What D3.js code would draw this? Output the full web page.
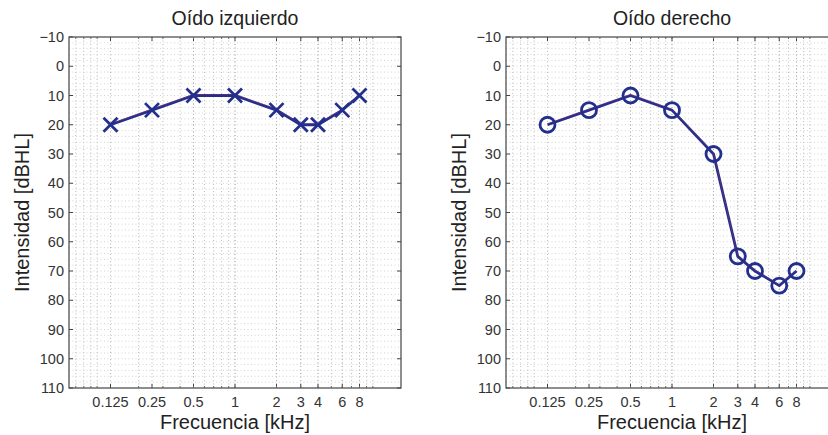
<!DOCTYPE html>
<html lang="es">
<head>
<meta charset="UTF-8">
<title>Audiograma</title>
<script src="https://d3js.org/d3.v7.min.js"></script>
<style>
  body { margin: 0; background: #fff; }
  svg { display: block; font-family: "Liberation Sans", Arial, sans-serif; }
</style>
</head>
<body>
<div id="chart"></div>
<script>
// frequencies in kHz and thresholds in dB HL
var freqs = [0.125, 0.25, 0.5, 1, 2, 3, 4, 6, 8];
var leftEar = [20, 15, 10, 10, 15, 20, 20, 15, 10];
var rightEar = [20, 15, 10, 15, 30, 65, 70, 75, 70];
var xTicks = [0.125, 0.25, 0.5, 1, 2, 3, 4, 6, 8];
var xTickLabels = ["0.125", "0.25", "0.5", "1", "2", "3", "4", "6", "8"];
var yTicks = [-10, 0, 10, 20, 30, 40, 50, 60, 70, 80, 90, 100, 110];

var W = 828, H = 435;
var svg = d3.select("#chart").append("svg").attr("width", W).attr("height", H);

var plotW = 332, plotTop = 37, plotBottom = 388;
var blue = "#222f8c";

function panel(x0, title, values, marker) {
    var x = d3.scaleLog().domain([0.0625, 16]).range([x0, x0 + plotW]);
    var y = d3.scaleLinear().domain([-10, 110]).range([plotTop, plotBottom]);
    var g = svg.append("g");

    // minor log grid positions
    var minor = [];
    [0.01, 0.1, 1, 10].forEach(function (dec) {
        for (var k = 1; k <= 9; k++) {
            var v = dec * k;
            if (v > 0.0625 && v < 16) minor.push(v);
        }
    });
    var vgrid = minor.concat(xTicks);
    var hgrid = d3.range(-8, 110, 2);

    g.selectAll(".vg").data(vgrid).enter().append("line")
        .attr("x1", d => x(d)).attr("x2", d => x(d))
        .attr("y1", plotTop).attr("y2", plotBottom)
        .attr("stroke", "#a8a8a8").attr("stroke-width", 0.8)
        .attr("stroke-dasharray", "1,2.5");
    g.selectAll(".hg").data(hgrid).enter().append("line")
        .attr("x1", x0).attr("x2", x0 + plotW)
        .attr("y1", d => y(d)).attr("y2", d => y(d))
        .attr("stroke", "#c8c8c8").attr("stroke-width", 0.8)
        .attr("stroke-dasharray", "1,2.5");

    // box
    g.append("rect").attr("x", x0).attr("y", plotTop)
        .attr("width", plotW).attr("height", plotBottom - plotTop)
        .attr("fill", "none").attr("stroke", "#444").attr("stroke-width", 1.2);

    // ticks (inward)
    g.selectAll(".xt").data(xTicks).enter().append("path")
        .attr("d", d => "M" + x(d) + "," + plotBottom + "v-4M" + x(d) + "," + plotTop + "v4")
        .attr("stroke", "#444");
    g.selectAll(".xm").data(minor).enter().append("path")
        .attr("d", d => "M" + x(d) + "," + plotBottom + "v-2M" + x(d) + "," + plotTop + "v2")
        .attr("stroke", "#666");
    g.selectAll(".yt").data(yTicks).enter().append("path")
        .attr("d", d => "M" + x0 + "," + y(d) + "h4M" + (x0 + plotW) + "," + y(d) + "h-4")
        .attr("stroke", "#444");

    // tick labels
    g.selectAll(".xl").data(xTicks).enter().append("text")
        .attr("x", d => x(d)).attr("y", plotBottom + 19)
        .attr("text-anchor", "middle").attr("font-size", 14.5).attr("fill", "#333")
        .text((d, i) => xTickLabels[i]);
    g.selectAll(".yl").data(yTicks).enter().append("text")
        .attr("x", x0 - 5).attr("y", d => y(d) + 5)
        .attr("text-anchor", "end").attr("font-size", 14.5).attr("fill", "#333")
        .text(d => d < 0 ? "\u2212" + Math.abs(d) : d);

    // titles
    g.append("text").attr("x", x0 + plotW / 2).attr("y", 25)
        .attr("text-anchor", "middle").attr("font-size", 19.5).attr("fill", "#222")
        .text(title);
    g.append("text").attr("x", x0 + plotW / 2).attr("y", 429)
        .attr("text-anchor", "middle").attr("font-size", 20).attr("fill", "#222")
        .text("Frecuencia [kHz]");
    g.append("text")
        .attr("transform", "translate(" + (x0 - 40) + "," + ((plotTop + plotBottom) / 2) + ") rotate(-90)")
        .attr("text-anchor", "middle").attr("font-size", 20).attr("fill", "#222")
        .text("Intensidad [dBHL]");

    // data line
    var pts = freqs.map((f, i) => [x(f), y(values[i])]);
    var line = d3.line();
    g.append("path").attr("d", line(pts)).attr("fill", "none")
        .attr("stroke", blue).attr("stroke-width", 2.8);
    g.append("path").attr("d", line(pts)).attr("fill", "none")
        .attr("transform", "translate(0,-1)")
        .attr("stroke", "#b03060").attr("stroke-width", 0.8).attr("opacity", 0.5);

    // markers
    if (marker === "x") {
        g.selectAll(".mk").data(pts).enter().append("path")
            .attr("d", d => "M" + (d[0] - 7) + "," + (d[1] - 7) + "l14,14M" + (d[0] - 7) + "," + (d[1] + 7) + "l14,-14")
            .attr("stroke", blue).attr("stroke-width", 2.8).attr("fill", "none");
    } else {
        g.selectAll(".mk").data(pts).enter().append("circle")
            .attr("cx", d => d[0]).attr("cy", d => d[1]).attr("r", 7.5)
            .attr("stroke", blue).attr("stroke-width", 2.8).attr("fill", "none");
    }
}

panel(69, "Oído izquierdo", leftEar, "x");
panel(506, "Oído derecho", rightEar, "o");
</script>
</body>
</html>
